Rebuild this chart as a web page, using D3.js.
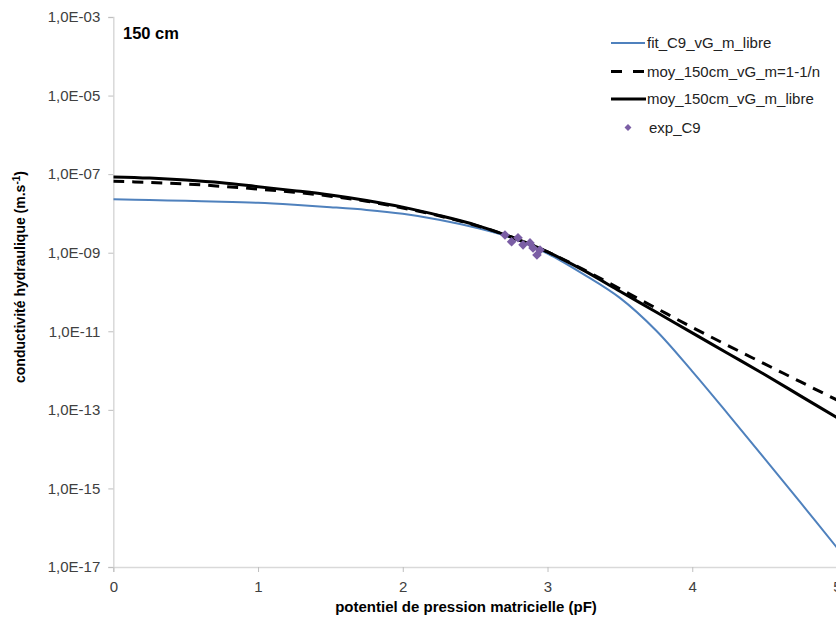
<!DOCTYPE html>
<html><head><meta charset="utf-8">
<script src="https://cdn.jsdelivr.net/npm/d3@7"></script>
<style>body{margin:0;background:#fff}svg{display:block;font-family:"Liberation Sans",Arial,sans-serif}</style>
</head><body><svg id="c" width="836" height="621"></svg>
<script>
const pF = [0,0.25,0.5,0.75,1,1.25,1.5,1.75,2,2.25,2.5,2.75,3,3.25,3.5,3.75,4,4.25,4.5,4.75,5];
const logK_fit_C9 = [-7.64,-7.66,-7.68,-7.70,-7.73,-7.78,-7.84,-7.91,-8.01,-8.16,-8.36,-8.62,-9.02,-9.55,-10.15,-10.98,-12.02,-13.12,-14.24,-15.37,-16.51];
const logK_moy_m1n = [-7.18,-7.21,-7.25,-7.31,-7.38,-7.46,-7.56,-7.69,-7.86,-8.06,-8.30,-8.60,-8.98,-9.43,-9.92,-10.41,-10.90,-11.37,-11.83,-12.29,-12.75];
const logK_moy_libre = [-7.07,-7.10,-7.15,-7.22,-7.32,-7.42,-7.53,-7.67,-7.84,-8.05,-8.29,-8.60,-8.98,-9.45,-9.98,-10.51,-11.04,-11.57,-12.10,-12.65,-13.20];
const exp_pF = [2.706,2.752,2.796,2.831,2.879,2.900,2.927,2.948];
const exp_logK = [-8.55,-8.72,-8.62,-8.80,-8.75,-8.88,-9.06,-8.93];
const xTicks = [0,1,2,3,4,5];
const yTickExps = [-3,-5,-7,-9,-11,-13,-15,-17];
const seriesNames = ["fit_C9_vG_m_libre","moy_150cm_vG_m=1-1/n","moy_150cm_vG_m_libre","exp_C9"];

const svg = d3.select("#c");
const L=113.3, R=837, T=17, B=567;
const x = d3.scaleLinear().domain([0,5]).range([L,R]);
const y = d3.scaleLog().domain([1e-17,1e-3]).range([B,T]);
const fmt = e => "1,0E-" + String(-e).padStart(2,"0");

// axes
const ya = svg.append("g").attr("transform",`translate(${L},0)`)
  .call(d3.axisLeft(y).tickValues(yTickExps.map(e=>Math.pow(10,e))).tickFormat((d,i)=>fmt(yTickExps[i])).tickSize(5).tickPadding(8));
const xa = svg.append("g").attr("transform",`translate(0,${B})`)
  .call(d3.axisBottom(x).tickValues(xTicks).tickFormat(d=>d).tickSize(5).tickPadding(9));
[ya,xa].forEach(g=>{
  g.select(".domain").attr("stroke","#d9d9d9").attr("stroke-width",1.5);
  g.selectAll(".tick line").attr("stroke","#bfbfbf");
  g.selectAll("text").attr("font-size",15).attr("fill","#404040").attr("font-family","Liberation Sans, Arial, sans-serif");
});

const line = d3.line().x((d,i)=>x(pF[i])).y(d=>y(Math.pow(10,d))).curve(d3.curveCatmullRom.alpha(0.5));
svg.append("clipPath").attr("id","pc").append("rect").attr("x",L).attr("y",T-5).attr("width",R-L).attr("height",B-T+5);
const pg = svg.append("g").attr("clip-path","url(#pc)");
pg.append("path").attr("d",line(logK_fit_C9)).attr("fill","none").attr("stroke","#4F81BD").attr("stroke-width",2);
pg.append("path").attr("d",line(logK_moy_m1n)).attr("fill","none").attr("stroke","#000").attr("stroke-width",3).attr("stroke-dasharray","11,8");
pg.append("path").attr("d",line(logK_moy_libre)).attr("fill","none").attr("stroke","#000").attr("stroke-width",3);
const sym = d3.symbol().type(d3.symbolSquare).size(46);
pg.selectAll(".pt").data(exp_pF).join("path").attr("class","pt")
  .attr("transform",(d,i)=>`translate(${x(d)},${y(Math.pow(10,exp_logK[i]))}) rotate(45)`)
  .attr("d",sym).attr("fill","#7B5EA5");

// legend
const lg = svg.append("g").attr("font-size",15).attr("fill","#222");
const ly = [43,71.5,99,127.5];
lg.append("line").attr("x1",611).attr("x2",645).attr("y1",ly[0]).attr("y2",ly[0]).attr("stroke","#4F81BD").attr("stroke-width",2);
lg.append("line").attr("x1",611).attr("x2",646).attr("y1",ly[1]).attr("y2",ly[1]).attr("stroke","#000").attr("stroke-width",3).attr("stroke-dasharray","11,11");
lg.append("line").attr("x1",611).attr("x2",646).attr("y1",ly[2]).attr("y2",ly[2]).attr("stroke","#000").attr("stroke-width",3);
lg.append("path").attr("transform",`translate(628,${ly[3]}) rotate(45)`).attr("d",d3.symbol().type(d3.symbolSquare).size(24)).attr("fill","#7B5EA5");
seriesNames.forEach((n,i)=>lg.append("text").attr("x",i==3?649:647).attr("y",ly[i]).attr("dy","0.35em").text(n));

// titles
svg.append("text").attr("x",123).attr("y",39).attr("font-size",16.5).attr("font-weight","bold").text("150 cm");
svg.append("text").attr("transform",`translate(25,277) rotate(-90)`).attr("text-anchor","middle")
  .attr("font-size",14).attr("font-weight","bold").html('conductivité hydraulique (m.s<tspan dy="-5" font-size="10">-1</tspan><tspan dy="5">)</tspan>');
svg.append("text").attr("x",466).attr("y",612).attr("text-anchor","middle").attr("font-size",15).attr("font-weight","bold")
  .text("potentiel de pression matricielle (pF)");
</script></body></html>
